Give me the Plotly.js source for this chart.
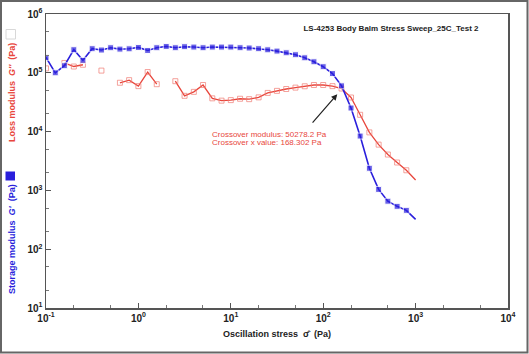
<!DOCTYPE html>
<html>
<head>
<meta charset="utf-8">
<script src="https://cdn.plot.ly/plotly-3.0.1.min.js"></script>
<style>html,body{margin:0;padding:0;background:#fff;}#chart{width:529px;height:354px;}</style>
</head>
<body>
<div id="chart"></div>
<script>
// Oscillation stress (Pa)
const stress = [0.1, 0.126, 0.158, 0.2, 0.251, 0.316, 0.398, 0.501, 0.631, 0.794,
  1, 1.26, 1.58, 2, 2.51, 3.16, 3.98, 5.01, 6.31, 7.94,
  10, 12.6, 15.8, 20, 25.1, 31.6, 39.8, 50.1, 63.1, 79.4,
  100, 126, 158, 200, 251, 316, 398, 501, 631, 794, 1000];
// Storage modulus G' (Pa)
const storage = [1.83e5, 1.0e5, 1.32e5, 2.47e5, 1.63e5, 2.57e5, 2.44e5, 2.67e5, 2.53e5, 2.56e5,
  2.7e5, 2.4e5, 2.67e5, 2.81e5, 2.67e5, 2.78e5, 2.74e5, 2.67e5, 2.74e5, 2.74e5,
  2.74e5, 2.67e5, 2.64e5, 2.57e5, 2.46e5, 2.34e5, 2.19e5, 2.03e5, 1.80e5, 1.54e5,
  1.27e5, 9.7e4, 6.0e4, 2.52e4, 8.4e3, 2.38e3, 1.04e3, 655, 536, 458, 322];
// Loss modulus G'' (Pa)
const loss = [1.19e5, null, 1.47e5, 1.28e5, 1.37e5, null, 1.09e5, null, 6.77e4, 7.5e4,
  5.93e4, 1.03e5, 6.4e4, null, 7.2e4, 4.06e4, 4.74e4, 6.2e4, 3.68e4, 3.36e4,
  3.43e4, 3.62e4, 3.56e4, 3.82e4, 4.55e4, 4.93e4, 5.3e4, 5.6e4, 5.9e4, 6.2e4,
  6.2e4, 5.93e4, 5.4e4, 3.8e4, 1.93e4, 9.7e3, 6.0e3, 4.07e3, 2.98e3, 2.2e3, 1.5e3];
const xTickVals = [0.1, 1, 10, 100, 1000, 10000];
const xTickText = ['10<sup>-1</sup>', '10<sup>0</sup>', '10<sup>1</sup>', '10<sup>2</sup>', '10<sup>3</sup>', '10<sup>4</sup>'];
const yTickVals = [10, 100, 1000, 10000, 100000, 1000000];
const yTickText = ['10<sup>1</sup>', '10<sup>2</sup>', '10<sup>3</sup>', '10<sup>4</sup>', '10<sup>5</sup>', '10<sup>6</sup>'];
const crossoverModulus = 50278.2;
const crossoverX = 168.302;
const titleText = 'LS-4253 Body Balm Stress Sweep_25C_Test 2';

const BLUE = '#2a1fdc';
const RED = '#e8463c';
const RED_M = '#f07b72';
const FONT = 'Liberation Sans, Arial, sans-serif';

const W = 529, H = 354, L = 46, R = 21, T = 14, B = 46;
const pw = W - L - R, ph = H - T - B;
const px = x => (x - L) / pw;
const py = y => (H - B - y) / ph;

const lastSize = (n, s) => Array.from({length: n}, (_, i) => i === n - 1 ? 0 : s);

const traces = [
  {
    x: stress, y: loss, type: 'scatter', mode: 'lines+markers', connectgaps: false,
    line: {color: RED, width: 1.3},
    marker: {symbol: 'square-open', size: lastSize(stress.length, 5), color: RED_M, line: {width: 1, color: RED_M}},
    name: "G''", showlegend: false
  },
  {
    x: stress, y: storage, type: 'scatter', mode: 'lines+markers',
    line: {color: BLUE, width: 1.6},
    marker: {symbol: 'square', size: lastSize(stress.length, 6), color: BLUE},
    name: "G'", showlegend: false
  }
];

const axisCommon = {
  type: 'log', showgrid: false, zeroline: false,
  showline: true, mirror: true, linecolor: '#555', linewidth: 1.5,
  ticks: 'inside', ticklen: 5, tickcolor: '#555', tickwidth: 1,
  tickmode: 'array',
  tickfont: {family: FONT, size: 10, color: '#222', weight: 'bold'},
  minor: {ticks: 'inside', ticklen: 3, tickcolor: '#777', tickwidth: 1, showgrid: false}
};

const layout = {
  width: W, height: H,
  margin: {l: L, r: R, t: T, b: B, pad: 0},
  paper_bgcolor: '#fff', plot_bgcolor: '#fff',
  showlegend: false,
  title: {text: '<b>' + titleText + '</b>', x: 391 / W, xref: 'container', xanchor: 'center',
    y: 1 - 28 / H, yref: 'container', yanchor: 'middle',
    font: {family: FONT, size: 8, color: '#222'}},
  xaxis: Object.assign({}, axisCommon, {
    range: [-1, 4], tickvals: xTickVals, ticktext: xTickText,
    title: {text: '<b>Oscillation stress  σ̂  (Pa)</b>', standoff: 8,
      font: {family: FONT, size: 9, color: '#222'}}
  }),
  yaxis: Object.assign({}, axisCommon, {
    range: [1, 6], tickvals: yTickVals, ticktext: yTickText
  }),
  annotations: [
    {xref: 'paper', yref: 'paper', x: px(12), y: py(93), text: "<b>Loss modulus  <i>G''</i>  (Pa)</b>",
      textangle: -90, showarrow: false, xanchor: 'center', yanchor: 'middle',
      font: {family: FONT, size: 9, color: RED}},
    {xref: 'paper', yref: 'paper', x: px(12), y: py(239), text: "<b>Storage modulus  <i>G'</i>  (Pa)</b>",
      textangle: -90, showarrow: false, xanchor: 'center', yanchor: 'middle',
      font: {family: FONT, size: 9, color: BLUE}},
    {xref: 'paper', yref: 'paper', x: px(210), y: py(134), xanchor: 'left', yanchor: 'middle',
      text: 'Crossover modulus: ' + crossoverModulus + ' Pa', showarrow: false,
      font: {family: FONT, size: 8, color: RED}},
    {xref: 'paper', yref: 'paper', x: px(210), y: py(142.7), xanchor: 'left', yanchor: 'middle',
      text: 'Crossover x value: ' + crossoverX + ' Pa', showarrow: false,
      font: {family: FONT, size: 8, color: RED}},
    {x: Math.log10(142), y: Math.log10(crossoverModulus * 0.86), xref: 'x', yref: 'y',
      text: '', showarrow: true, ax: -26, ay: 30, arrowhead: 2, arrowsize: 1, arrowwidth: 1.2, arrowcolor: '#222'}
  ],
  shapes: [
    {type: 'rect', xref: 'paper', yref: 'paper', x0: px(1), x1: px(527.5), y0: py(352.5), y1: py(1),
      line: {color: '#666', width: 2}, fillcolor: 'rgba(0,0,0,0)', layer: 'above'},
    {type: 'rect', xref: 'paper', yref: 'paper', x0: px(6), x1: px(15.5), y0: py(39), y1: py(29.5),
      line: {color: '#d8d8d8', width: 1}, fillcolor: '#fff'},
    {type: 'rect', xref: 'paper', yref: 'paper', x0: px(5.5), x1: px(15), y0: py(180.5), y1: py(171.5),
      line: {color: BLUE, width: 0}, fillcolor: BLUE}
  ]
};

Plotly.newPlot('chart', traces, layout, {displayModeBar: false, staticPlot: true});
</script>
</body>
</html>
